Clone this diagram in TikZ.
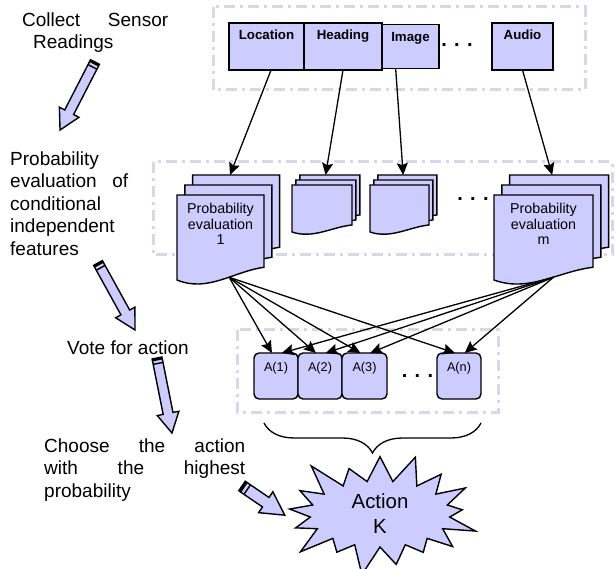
\documentclass[tikz,border=0pt]{standalone}
\usepackage{fontspec}
\setmainfont{Liberation Sans}
\usepackage{tikz}
\usetikzlibrary{positioning,shapes,shapes.symbols,arrows.meta,calc,decorations.pathreplacing}
\definecolor{lavender}{HTML}{CCCCFF}
\definecolor{framegray}{HTML}{D7D7EB}

\newcommand{\sheetpath}[4]{(#1,#2) -- ({#1+#3},#2) -- ({#1+#3},{#2+0.85*#4})
  .. controls ({#1+0.65*#3},{#2+0.9*#4}) and ({#1+0.35*#3},{#2+1.15*#4}) .. (#1,{#2+#4}) -- cycle}
\newcommand{\docstack}[7]{%
  \foreach \k in {2,1,0}
    \draw[sheet] \sheetpath{#2+0.78*\k*#6}{#3-\k*#6}{#4}{#5};
  \node[doctext, text width=#4pt] (#1) at ({#2+0.5*#4},{#3+0.34*#5}) {#7};
  \coordinate (#1-in) at ({#2+1.56*#6+0.43*#4},{#3-2*#6});
  \coordinate (#1-out) at ({#2+0.6*#4},{#3+0.968*#5});
}

\begin{document}
\begin{tikzpicture}[x=1pt, y=-1pt,
      frame/.style={draw=framegray, line width=3pt, dash pattern=on 11pt off 5pt on 3pt off 5pt},
      sensor/.style={rectangle, draw, fill=lavender, line width=1.4pt, outer sep=0pt, inner ysep=3pt, minimum height=47pt, text height=14pt, text depth=27pt, font=\fontsize{13.3}{15}\selectfont\bfseries},
      sheet/.style={draw, fill=lavender, line width=1.4pt},
      doctext/.style={inner sep=0pt, align=center, font=\fontsize{14.3}{15.5}\selectfont},
      choice/.style={rectangle, rounded corners=5pt, draw, fill=lavender, line width=1.4pt, outer sep=0pt, minimum width=44pt, minimum height=46pt, inner ysep=3pt, text height=15pt, text depth=25pt, font=\fontsize{12.7}{14}\selectfont},
      link/.style={draw, line width=1.3pt, -{Stealth[length=12pt, width=11pt, inset=2pt]}},
      note/.style={inner sep=0pt, align=left, anchor=north west, font=\fontsize{19}{22.5}\selectfont},
      more/.style={inner sep=0pt, font=\fontsize{20}{20}\selectfont\bfseries},
      pics/pencil/.style={code={
        \draw[line width=1.4pt, fill=lavender] (0,-5) -- ({#1-20},-5) -- ({#1-20},-11) -- (#1,0) -- ({#1-20},11) -- ({#1-20},5) -- (0,5) -- cycle;
        \fill (0,-5) rectangle (2.5,5);
        \draw[line width=1.4pt] (5.5,-5) -- (5.5,5);
      }}
      ]
      \useasboundingbox (0,0) rectangle (616,569);

      \draw[frame] (213,7) rectangle (585,90);
      \draw[frame] (153,162) rectangle (612,255);
      \draw[frame] (237,330) rectangle (498,412);

      \node[sensor, minimum width=75pt] (loc) at (266.5,46.5) {Location};
      \node[sensor, minimum width=78pt, right=0pt of loc] (head) {Heading};
      \node[sensor, minimum width=57pt, minimum height=44pt, text depth=24pt, right=0pt of head] (img) {Image};
      \node[more] (dots1) at (457,45) {. . .};
      \node[sensor, minimum width=61pt] (aud) at (522.5,46.5) {Audio};

      \docstack{P1}{177}{195}{87}{85}{10}{Probability\\evaluation\\1}
      \docstack{P2}{292}{185}{60}{47}{5}{}
      \docstack{P3}{370}{185}{59}{47}{5}{}
      \node[more] (dots2) at (473,199) {. . .};
      \docstack{Pm}{494}{195}{99}{85}{10}{Probability\\evaluation\\m}

      \draw[link] (loc.281) -- (P1-in);
      \draw[link] (head.south) -- (P2-in);
      \draw[link] (img.236) -- (P3-in);
      \draw[link] (aud.south) -- (Pm-in);

      \node[choice] (A1) at (276,376) {A(1)};
      \node[choice, right=0pt of A1] (A2) {A(2)};
      \node[choice, minimum width=45pt, right=0pt of A2] (A3) {A(3)};
      \node[more] (dots3) at (417.5,376) {. . .};
      \node[choice] (An) at (459,376) {A(n)};

      \foreach \a in {A1,A2,A3,An} \draw[link] (P1-out) -- (\a.100);
      \foreach \a in {A1,A2,A3,An} \draw[link] (Pm-out) -- (\a.76);

      \draw[line width=1.3pt, decorate, decoration={brace, mirror, amplitude=30pt}]
        ($(A1.south west)+(10,24)$) -- ($(An.south east)+(0,24)$);
      \node[starburst, draw, fill=lavender, line width=1.4pt, starburst points=17, starburst point height=34pt,
        minimum width=208pt, minimum height=134pt, inner sep=0pt, align=center,
        font=\fontsize{20.4}{25}\selectfont] (actionK) at (380,514) {Action\\K};

      \node[note] (collect) at (22,12.4) {\makebox[146pt][s]{Collect Sensor}\\\hspace*{11pt}Readings};
      \node[note] (probeval) at (10,151.4) {Probability\\\makebox[118pt][s]{evaluation of}\\conditional\\independent\\features};
      \node[note] (vote) at (67,340.4) {Vote for action};
      \node[note] (choose) at (44,438.4) {\makebox[201pt][s]{Choose the action}\\\makebox[201pt][s]{with the highest}\\probability};

      \pic[rotate=-117.2] at (95,62) {pencil=76.5};
      \pic[rotate=-61.1] at (98,263) {pencil=76.5};
      \pic[rotate=-78.7] at (157,358) {pencil=76.5};
      \pic[rotate=-34.3, scale=1.15] at (242,486) {pencil=45};
    \end{tikzpicture}
\end{document}
